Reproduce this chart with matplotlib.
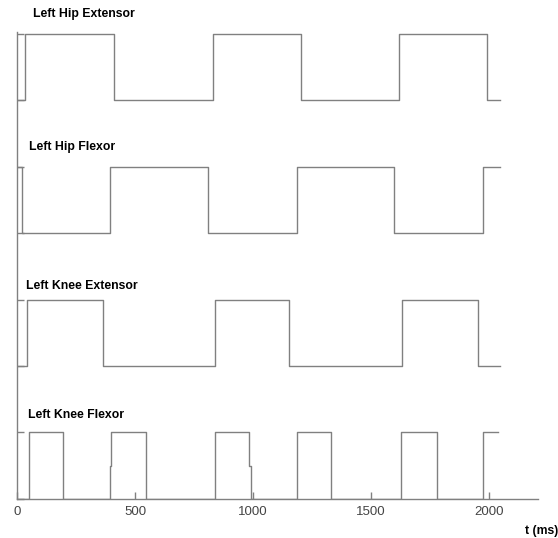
import matplotlib
matplotlib.use("Agg")
import matplotlib.pyplot as plt

# transition times (ms) and levels (0/1) for each muscle trace, steps-post
hip_ext_t = [0, 34, 410, 832, 1203, 1620, 1993, 2046]
hip_ext_v = [0, 1, 0, 1, 0, 1, 0, 0]

hip_flex_t = [0, 22, 394, 808, 1188, 1597, 1976, 2046]
hip_flex_v = [1, 0, 1, 0, 1, 0, 1, 1]

knee_ext_t = [0, 41, 366, 839, 1154, 1630, 1952, 2046]
knee_ext_v = [0, 1, 0, 1, 0, 1, 0, 0]

knee_flex_t = [0, 52, 196, 392, 400, 545, 839, 985, 992, 1188, 1331, 1627, 1781, 1976, 2039]
knee_flex_v = [0, 1, 0, 0.5, 1, 0, 1, 0.5, 0, 1, 0, 1, 0, 1, 1]

labels = ["Left Hip Extensor", "Left Hip Flexor", "Left Knee Extensor", "Left Knee Flexor"]
offsets = [6, 4, 2, 0]
label_x = [68, 51, 38, 47]
label_dy = [1.30, 1.30, 1.21, 1.26]

xticks = [0, 500, 1000, 1500, 2000]
xlabel = "t (ms)"

series = [(hip_ext_t, hip_ext_v), (hip_flex_t, hip_flex_v),
          (knee_ext_t, knee_ext_v), (knee_flex_t, knee_flex_v)]

W, H = 558, 538
fig = plt.figure(figsize=(W / 100, H / 100), dpi=100)
left, right, bottom, top = 17, 538, 498.7, 32
ax = fig.add_axes([left / W, 1 - bottom / H, (right - left) / W, (bottom - top) / H])

lc = "#808080"
for (t, v), off in zip(series, offsets):
    ax.plot(t, [vv + off for vv in v], drawstyle="steps-post", color=lc, lw=1.0)

for lab, off, lx, dy in zip(labels, offsets, label_x, label_dy):
    ax.text(lx, off + dy, lab, fontsize=8.8, fontweight="bold",
            family=["Liberation Sans", "DejaVu Sans"], ha="left", va="center",
            clip_on=False)

ax.set_xlim(0, (right - left) / 0.236)
ax.set_ylim(0, (bottom - top) / 66.4)

ax.spines["top"].set_visible(False)
ax.spines["right"].set_visible(False)
for s in ["left", "bottom"]:
    ax.spines[s].set_color(lc)
    ax.spines[s].set_linewidth(1.0)

ax.set_xticks(xticks)
ax.set_xticklabels([str(x) for x in xticks], fontsize=9.5, color="#444444",
                   family=["Liberation Sans", "DejaVu Sans"])
ax.set_yticks(list(range(0, 8)))
ax.set_yticklabels([])
ax.tick_params(axis="both", direction="in", length=5, width=1.0, color=lc, pad=5)

fig.text(525 / W, 1 - 531 / H, xlabel, fontsize=8.8, fontweight="bold",
         family=["Liberation Sans", "DejaVu Sans"], ha="left", va="center")

fig.savefig("out.png", dpi=100)
